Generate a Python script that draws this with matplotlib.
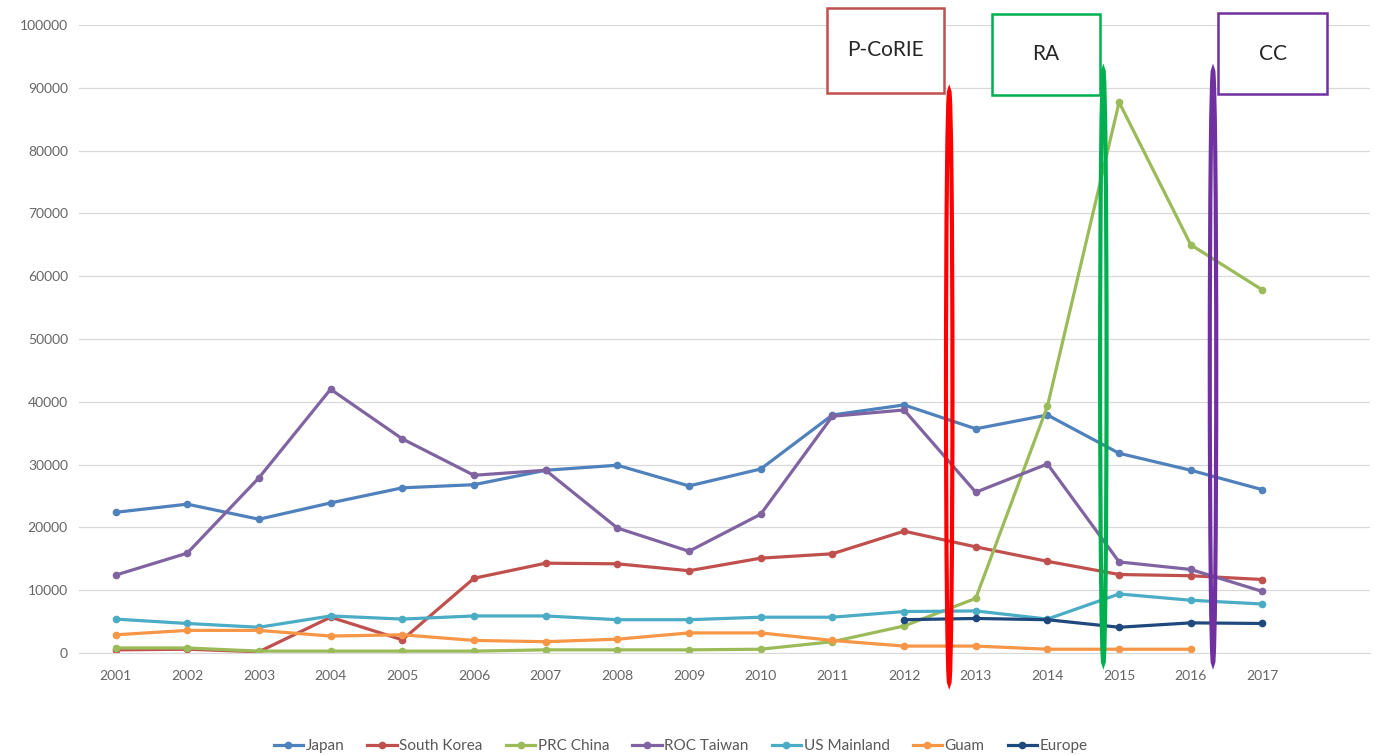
import matplotlib
matplotlib.use("Agg")
import matplotlib.pyplot as plt
from matplotlib.patches import Ellipse, Rectangle

plt.rcParams['font.family'] = ['Lato', 'DejaVu Sans']

# data
years = list(range(2001, 2018))
japan = [22400, 23700, 21300, 23900, 26300, 26800, 29100, 29900, 26600, 29300,
         37900, 39500, 35700, 37900, 31800, 29100, 26000]
south_korea = [500, 600, 200, 5700, 2100, 11900, 14300, 14200, 13100, 15100,
               15800, 19400, 16900, 14600, 12500, 12300, 11700]
prc_china = [800, 800, 300, 300, 300, 300, 500, 500, 500, 600,
             1800, 4300, 8700, 39300, 87700, 65000, 57800]
roc_taiwan = [12400, 15900, 27900, 42000, 34100, 28300, 29100, 19900, 16200, 22100,
              37700, 38700, 25600, 30100, 14500, 13300, 9800]
us_mainland = [5400, 4700, 4100, 5900, 5400, 5900, 5900, 5300, 5300, 5700,
               5700, 6600, 6700, 5400, 9400, 8400, 7800]
guam_years = list(range(2001, 2017))
guam = [2900, 3600, 3600, 2700, 2900, 2000, 1800, 2200, 3200, 3200,
        2000, 1100, 1100, 600, 600, 600]
europe_years = list(range(2012, 2018))
europe = [5300, 5500, 5300, 4100, 4800, 4700]

series = [
    ("Japan", years, japan, "#4F81BD"),
    ("South Korea", years, south_korea, "#C0504D"),
    ("PRC China", years, prc_china, "#9BBB59"),
    ("ROC Taiwan", years, roc_taiwan, "#8064A2"),
    ("US Mainland", years, us_mainland, "#4BACC6"),
    ("Guam", guam_years, guam, "#F79646"),
    ("Europe", europe_years, europe, "#1F497D"),
]

# annotation boxes: label, x-range (years), y-range, colour
boxes = [
    ("P-CoRIE", 2010.93, 2012.56, 89200, 102700, "#C0504D"),
    ("RA", 2013.22, 2014.74, 88900, 101800, "#00B050"),
    ("CC", 2016.38, 2017.9, 89000, 101900, "#7030A0"),
]
# marker ellipses: x centre, y bottom, y top, colour
ovals = [
    (2012.63, -4800, 89500, "#FF0000"),
    (2014.78, -1600, 92800, "#00B050"),
    (2016.31, -1600, 92800, "#7030A0"),
]

fig = plt.figure(figsize=(13.76, 7.55), dpi=100)
ax = fig.add_axes([79 / 1376, 102 / 755, 1291 / 1376, 628 / 755])

for name, xs, ys, col in series:
    ax.plot(xs, ys, color=col, lw=2.3, marker="o", ms=4.5, label=name)

ax.set_xlim(2000.49, 2018.5)
ax.set_ylim(0, 100000)
ax.set_yticks(range(0, 100001, 10000))
ax.set_xticks(years)
ax.set_xticklabels([str(y) for y in years])
ax.grid(axis="y", color="#D9D9D9", lw=0.9)
ax.set_axisbelow(True)
for s in ax.spines.values():
    s.set_visible(False)
ax.spines["bottom"].set_visible(True)
ax.spines["bottom"].set_color("#D9D9D9")
ax.tick_params(length=0, labelsize=10, labelcolor="#666666")
ax.tick_params(axis="x", pad=12)
ax.tick_params(axis="y", pad=8)

for label, x0, x1, y0, y1, col in boxes:
    ax.add_patch(Rectangle((x0, y0), x1 - x0, y1 - y0, facecolor="white",
                           edgecolor=col, lw=1.8, clip_on=False, zorder=5))
    ax.text((x0 + x1) / 2, (y0 + y1) / 2, label, ha="center", va="center",
            fontsize=15, color="#262626", zorder=6)

for xc, yb, yt, col in ovals:
    ax.add_patch(Ellipse((xc, (yb + yt) / 2), 0.09, yt - yb, facecolor="none",
                         edgecolor=col, lw=3, clip_on=False, zorder=4))

# legend sits centred on the figure, not the axes
ax.legend(loc="upper center", bbox_to_anchor=(0.466, -0.115), ncol=7, frameon=False,
          fontsize=11, labelcolor="#595959", handlelength=1.95, handletextpad=0.15,
          columnspacing=1.5)

fig.savefig("out.png", dpi=100)
